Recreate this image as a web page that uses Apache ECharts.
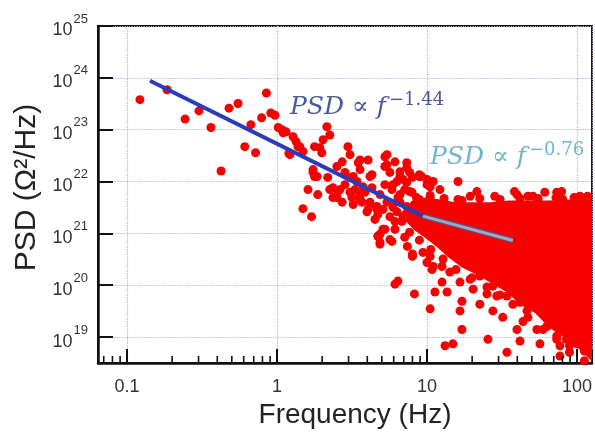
<!DOCTYPE html>
<html>
<head>
<meta charset="utf-8">
<script src="https://cdn.jsdelivr.net/npm/echarts/dist/echarts.min.js"></script>
<style>
  html, body { margin: 0; padding: 0; background: #ffffff; }
  #chart { width: 595px; height: 434px; }
</style>
</head>
<body>
<div id="chart"></div>
<script>
// ---------------- data ----------------
const X_MIN = 0.0641, X_MAX = 125.9;
const Y_MIN = 3.162e18, Y_MAX = 1e25;

const X_TICK_LABELS = ['0.1', '1', '10', '100'];
const MINOR_TICKS = [0.07, 0.08, 0.09, 0.2, 0.3, 0.4, 0.5, 0.6, 0.7, 0.8, 0.9,
  2, 3, 4, 5, 6, 7, 8, 9, 20, 30, 40, 50, 60, 70, 80, 90];

// sparse low-frequency points [frequency Hz, PSD]
const lowFreqPoints = [
  [0.122,3.8e23],[0.185,5.9e23],[0.244,1.6e23],[0.302,2.3e23],[0.363,1.1e23],[0.424,1.6e22],
  [0.479,2.6e23],[0.55,3.2e23],[0.61,4.7e22],[0.67,1.25e23],[0.72,3.6e22],[0.79,1.7e23],
  [0.85,5.1e23],[0.91,2.1e23],[0.97,1.9e23],[1.02,1.1e23],[1.08,1e23],[1.10,8.7e22],
  [1.15,9.1e22],[1.20,3.5e22],[1.22,3.3e22],[1.28,7.3e22],[1.34,5.9e22],[1.38,4.7e22],
  [1.42,4.7e22],[1.49,3.8e22],[1.78,4.7e22]
];

// mid-frequency points (1.5 - 10 Hz)
const midPoints = [
  [2.15,1.14e23],[2.25,7.9e22],[2.03,6.4e22],[1.93,4.5e22],[1.99,3.6e22],[1.74,1.7e22],
  [1.74,1.5e22],[1.85,1.25e22],[1.78,1.25e22],[2.18,1.2e22],[1.61,7e21],[1.87,5.6e21],
  [1.49,3e21],[1.70,2.1e21],[2.36,7.6e21],[2.55,6.4e21],[2.36,4.9e21],[2.72,4e21],
  [2.85,1.35e22],[3.16,1.2e22],[3.31,7e21],[3.58,5.6e21],[4.3,1.35e22],[3.69,4e21],
  [4.17,3.6e21],[4.64,3.3e21],[4.05,2.9e21],[4.7,2.3e21],[5.66,2.1e21],[6.12,1.7e21],
  [6.92,2.1e21],[5.09,1.2e21],[4.7,8.8e20],[5.66,7.6e20],[4.86,6.2e20],[7.4,5.6e20],
  [5.66,1.5e22],[6.61,1.25e22],[5.93,8.7e21],[7.33,9.6e21],[8.9,1.25e22],[10.0,8.7e21],
  [7.94,6.2e21],[8.9,4.5e21],[6.61,4e21],[6.31,2.6e21],
  [2.51,1.95e22],[2.72,2.4e22],[2.97,4.7e22],[3.07,3.3e22],[2.84,1.5e22],[3.22,1.25e22],
  [2.25,7e21],[2.51,4.9e21],[2.63,7e21],[3.58,2.6e22],[4.05,2.6e22],[3.58,1.7e22],
  [4.17,1.25e22],[3.41,1e22],[3.75,7.9e21],[3.07,6.2e21],[3.58,4.5e21],[3.22,3.6e21],
  [4.17,4e21],[4.64,2.9e21],[3.98,2.6e21],[5.41,3.3e22],[6.12,2.4e22],[5.24,1.95e22],
  [6.61,1.55e22],[7.33,1.86e22],[6.31,1e22],[6.92,1.1e22],[8.0,1.2e22],[10,1.1e22],
  [10.5,7.9e21],[5.84,7e21],[6.61,5.6e21],[7.66,6.4e21],[8.51,4.9e21],[5.41,4e21],
  [5.93,3.2e21],[7.33,3.3e21],[8.0,2.6e21],[9.2,3.6e21],[10.5,4.9e21],
  [3.48,2.3e22],[5.24,3e22],[5.41,2.1e22],[7.66,1.5e22],[9.2,1.25e22],[7.33,2.3e22],
  [8.9,1.35e22],[8.51,1.5e21],[9.7,1.1e21],
  [2.84,8.7e21],[3.16,4.9e21],[3.86,6.2e21],[4.3,7.6e21],[4.86,5.6e21],[5.24,8.7e21],
  [6.4,4.9e21],[7.1,7e21],[8.25,3.6e21],[5.09,2.9e21],[4.5,1.86e21],[6.12,1.2e21],[7.1,8.4e20]
];

// points along the upper edge of the dense high-frequency cloud
const cloudTopPoints = [
  [11.0,1e22],[12.2,7e21],[16.1,1e22],[21.5,6.4e21],[28.3,5.2e21],[38.3,6.4e21],
  [47.1,5.2e21],[61,6.2e21],[79,6.4e21],[104.7,5.2e21],[117.5,4.5e21],[16.1,4.5e21],
  [19.4,5.2e21],[39.8,5.6e21],[50.8,5.2e21],[73.3,6.2e21],[80.4,4.5e21],[100,4.9e21],
  [10.5,5.4e21],[13.0,4.7e21],[17.1,4.3e21],[22.5,4.7e21],[30.7,4.5e21],[41.7,4.7e21],
  [55,4.7e21],[72.4,4.9e21],[95.5,4.9e21],[117.5,5.2e21]
];

// points along the lower edge of the cloud and scattered below it
const cloudLowPoints = [
  [112,5.4e18],[89.1,6.8e18],[73.3,9.1e18],[59.3,1.4e19],[47.1,2.4e19],[37.4,4.3e19],
  [30.7,6.5e19],[25.1,9.2e19],[20.0,1.4e20],[15.6,2e20],[12.8,3.2e20],[10.6,4.9e20],
  [8.9,7.4e20],[7.66,1.05e21],[6.8,1.7e21],
  [5.24,1.2e21],[4.86,6.8e20],[5.84,7e20],[6.4,1.2e20],[6.12,1.05e20],[8.25,6.8e19],
  [4.86,9.6e20],[8.0,4e20],[8.0,3.6e20],[9.4,4.3e20],[10,2.75e20],[11.3,7.4e19],
  [13.6,7.4e19],[10.5,3.5e19],[17.1,4.9e19],[16.6,3.2e19],[17.1,1.4e19],[13.2,6.8e18],
  [14.9,7.4e18],[25.5,9.1e18],[34.1,5.1e18],[22.5,4.3e19],[29.2,6.2e19],[27.5,3.2e19],
  [32,2.4e19],[39.8,1.4e19],[41.7,8.4e18],[43.7,2e19],[56.6,7.4e18],[54,1.4e19],
  [63,1.6e19],[77,6.8e18],[77,4.3e18],[89.1,5.1e18],[100,7.4e18],[116,6.5e18],
  [112,3.5e18],[85,9.1e18],[73.3,1.05e19],[93.3,1.05e19],[69,2e19],[80.4,1.6e19],
  [20.3,8.4e19],[25.1,6.8e19],[27.5,9.6e19],[34.1,6.2e19],[41.7,4.7e19],[46.4,3.2e19],
  [50.8,4e19],[22.5,1.5e20],[19.4,1.3e20],[16.6,1.15e20],[14.2,1.8e20],[12.6,2.3e20],
  [11,2.3e20],[10.5,3.6e20],[10.8,2e20],[12.6,1.15e20]
];

// outline of the saturated (fully overlapping) part of the cloud
const CORE_FREQ = [6.8,7.66,9.7,12.2,15.4,19.4,26.3,35.6,48.6,65.8,89.1,126,126,96,83,65.8,
  52.5,41.7,34.7,28.3,21.9,17.1,13.8,11.7,9.7,8.25,7.1];
const CORE_PSD = [2.6e21,3.6e21,4.9e21,4.5e21,4e21,4e21,4e21,4.3e21,4.3e21,4.3e21,4.5e21,4.5e21,
  3.4e18,7.1e18,9.6e18,1.5e19,2.9e19,4.2e19,7.1e19,1e20,1.56e20,2.2e20,3.5e20,5.4e20,8.2e20,1.15e21,1.8e21];

// power-law fits
const fitLow = [[0.1423, 8.8e23], [9.4, 2.15e21]];
const fitHigh = [[9.4, 2.15e21], [37.4, 7.3e20]];

// annotation anchors [frequency, PSD] and texts
const annotations = [
  { pos: [1.22, 2.9e23], exp: '−1.44', color: '#1f2f85' },
  { pos: [10.47, 3.16e22], exp: '−0.76', color: '#4c9fc3' }
];

// ---------------- chart ----------------
const chart = echarts.init(document.getElementById('chart'), null, { renderer: 'canvas' });

function isDecade(v) {
  const e = Math.log10(v);
  return Math.abs(e - Math.round(e)) < 1e-6;
}

const RED = '#f60000';
const allPoints = lowFreqPoints.concat(midPoints, cloudTopPoints, cloudLowPoints);

const option = {
  backgroundColor: '#ffffff',
  animation: false,
  grid: {
    left: 98, right: 3, top: 26, bottom: 70,
    show: true, borderColor: '#111', borderWidth: 2, backgroundColor: 'transparent'
  },
  xAxis: {
    type: 'log', logBase: 10, min: X_MIN, max: X_MAX, splitNumber: 3,
    name: 'Frequency (Hz)', nameLocation: 'middle', nameGap: 38,
    nameTextStyle: { fontFamily: 'Liberation Sans', fontSize: 28, color: '#222', padding: [0, 0, 0, 20] },
    axisLine: { show: true, lineStyle: { color: '#111', width: 2.5 } },
    axisTick: { show: true, inside: true, length: 14, lineStyle: { color: '#111', width: 2 } },
    axisLabel: {
      margin: 15, fontFamily: 'Liberation Sans', fontSize: 18, color: '#333',
      formatter: function (v) {
        if (!isDecade(v)) return '';
        const r = Math.round(Math.log10(v));
        return X_TICK_LABELS[r + 1] || '';
      }
    },
    splitLine: { show: true, lineStyle: { color: '#b4b4dc', type: 'dotted', width: 1.2 } }
  },
  yAxis: {
    type: 'log', logBase: 10, min: Y_MIN, max: Y_MAX, splitNumber: 5,
    name: 'PSD (Ω²/Hz)', nameLocation: 'middle', nameGap: 54, nameRotate: 90,
    nameTextStyle: { fontFamily: 'Liberation Sans', fontSize: 30, color: '#222', padding: [0, 0, 0, 14] },
    axisLine: { show: true, lineStyle: { color: '#111', width: 2.5 } },
    axisTick: { show: true, inside: true, length: 15, lineStyle: { color: '#111', width: 2 } },
    axisLabel: {
      margin: 10, color: '#333',
      formatter: function (v) {
        if (!isDecade(v)) return '';
        return '{g| }{b|10}{s|' + Math.round(Math.log10(v)) + '}';
      },
      rich: {
        g: { fontSize: 1, lineHeight: 27, width: 0 },
        b: { fontFamily: 'Liberation Sans', fontSize: 18, lineHeight: 18, verticalAlign: 'bottom', color: '#333' },
        s: { fontFamily: 'Liberation Sans', fontSize: 13, lineHeight: 13, verticalAlign: 'top', padding: [0, 0, 0, 1], color: '#333' }
      }
    },
    splitLine: { show: true, lineStyle: { color: '#b4b4dc', type: 'dotted', width: 1.2 } }
  },
  series: [
    {
      name: 'minor ticks', type: 'custom', silent: true, z: 5,
      data: MINOR_TICKS.map(function (v) { return [v, Y_MIN]; }),
      encode: { x: 0, y: 1 },
      renderItem: function (params, api) {
        const p = api.coord([api.value(0), Y_MIN]);
        return {
          type: 'line',
          shape: { x1: p[0], y1: p[1], x2: p[0], y2: p[1] - 7 },
          style: { stroke: '#111', lineWidth: 1.6 }
        };
      }
    },
    {
      name: 'PSD', type: 'scatter', z: 2,
      symbol: 'circle', symbolSize: 9,
      itemStyle: { color: RED, opacity: 1 },
      data: allPoints
    },
    {
      name: 'dense core', type: 'custom', z: 2, clip: true, silent: true,
      data: CORE_FREQ.map(function (f, i) { return [f, CORE_PSD[i]]; }),
      encode: { x: 0, y: 1 },
      renderItem: function (params, api) {
        if (params.dataIndex !== 0) return null;
        const pts = CORE_FREQ.map(function (f, i) { return api.coord([f, CORE_PSD[i]]); });
        return { type: 'polygon', shape: { points: pts }, style: { fill: RED } };
      }
    },
    {
      name: 'fit low', type: 'line', z: 4, symbol: 'none',
      data: fitLow,
      lineStyle: { color: '#2b3cb6', width: 4 }
    },
    {
      name: 'fit high outline', type: 'line', z: 4, symbol: 'none',
      data: fitHigh,
      lineStyle: { color: '#50547e', width: 5.5 }
    },
    {
      name: 'fit high', type: 'line', z: 4, symbol: 'none',
      data: fitHigh,
      lineStyle: { color: '#a4a4c4', width: 3 }
    },
    {
      name: 'annotations', type: 'scatter', z: 6, symbolSize: 0, silent: true,
      data: annotations.map(function (a) {
        return {
          value: a.pos,
          label: {
            show: true, position: 'right', distance: 0,
            formatter: '{a|PSD }{m|∝ }{a|f}{s|' + a.exp + '}',
            rich: {
              a: { fontFamily: 'DejaVu Serif', fontStyle: 'italic', fontSize: 25, lineHeight: 28, verticalAlign: 'bottom', color: a.color },
              m: { fontFamily: 'DejaVu Serif', fontSize: 25, lineHeight: 28, verticalAlign: 'bottom', color: a.color },
              s: { fontFamily: 'DejaVu Serif', fontSize: 18, lineHeight: 18, verticalAlign: 'top', padding: [0, 0, 0, 3], color: a.color }
            }
          }
        };
      })
    }
  ]
};

chart.setOption(option);
</script>
</body>
</html>
